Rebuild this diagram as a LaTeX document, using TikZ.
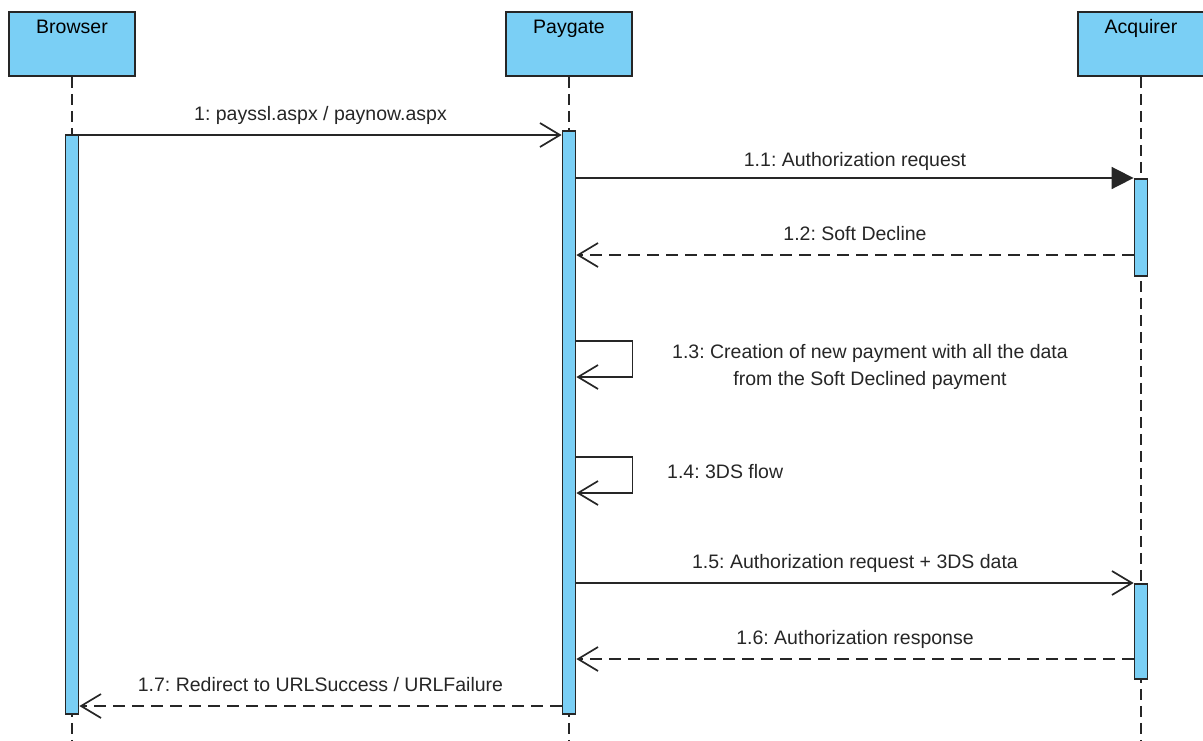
\documentclass[tikz,border=0pt]{standalone}
\usepackage{fontspec}
\setmainfont{Liberation Sans}
\usetikzlibrary{arrows.meta}
\frenchspacing

\definecolor{lifeblue}{HTML}{7ACFF5}
\definecolor{inkgray}{HTML}{262626}

\tikzset{
  actor/.style={draw=inkgray, fill=lifeblue, line width=1.8pt, minimum width=126pt,
                inner sep=4pt, text height=18pt, text depth=38pt},
  bar/.style={draw=inkgray, fill=lifeblue, line width=1.8pt, minimum width=13pt, inner sep=0pt},
  lifeline/.style={draw=inkgray, line width=1.8pt, dash pattern=on 11pt off 6pt},
  call/.style={draw=inkgray, line width=1.7pt, -{Straight Barb[length=20pt,width=24pt]}},
  sync/.style={draw=inkgray, line width=1.7pt, -{Triangle[length=22pt,width=22pt]}},
  reply/.style={call, dash pattern=on 12pt off 7pt},
  msglabel/.style={midway, anchor=south, yshift=10pt, inner sep=0pt, text height=14pt,
                   text depth=4pt, text=inkgray}
}

\begin{document}
\begin{tikzpicture}[x=1pt, y=-1pt, font=\fontsize{19.5pt}{27pt}\selectfont]
    \useasboundingbox (0,0) rectangle (1203,740) ;

    \node[actor, anchor=north] (browser) at (72,11) {Browser} ;
    \node[actor, anchor=north] (paygate) at (569,11) {Paygate} ;
    \node[actor, anchor=north] (acquirer) at (1141,11) {Acquirer} ;

    \coordinate (brend) at (72,740) ;
    \coordinate (pgend) at (569,740) ;
    \coordinate (acend) at (1141,740) ;
    \draw[lifeline] (browser.south) -- (brend) ;
    \draw[lifeline] (paygate.south) -- (pgend) ;
    \draw[lifeline] (acquirer.south) -- (acend) ;

    \node[bar, anchor=north, minimum height=579pt] (brbar) at (72,134) {} ;
    \node[bar, anchor=north, minimum height=583pt] (pgbar) at (569,130) {} ;
    \node[bar, anchor=north, minimum height=97pt] (acbar1) at (1141,178) {} ;
    \node[bar, anchor=north, minimum height=95pt] (acbar2) at (1141,583) {} ;

    \draw[call] (brbar.east |- 0,135) -- (pgbar.west |- 0,135)
        node[msglabel] {1: payssl.aspx / paynow.aspx} ;
    \draw[sync] (pgbar.east |- acbar1.north) -- (acbar1.north west)
        node[msglabel, yshift=-3pt] {1.1: Authorization request} ;
    \draw[reply] (acbar1.west |- 0,255) -- (pgbar.east |- 0,255)
        node[msglabel] {1.2: Soft Decline} ;

    \draw[call] (pgbar.east |- 0,341) -- ++(56,0) -- ++(0,36) -- (pgbar.east |- 0,377) ;
    \node[align=center, text=inkgray] (selfnew) at (870,367)
        {1.3: Creation of new payment with all the data\\from the Soft Declined payment} ;

    \draw[call] (pgbar.east |- 0,457) -- ++(56,0) -- ++(0,36) -- (pgbar.east |- 0,493) ;
    \node[anchor=west, inner sep=0pt, text=inkgray] (selfthreeds) at (667,472) {1.4: 3DS flow} ;

    \draw[call] (pgbar.east |- acbar2.north) -- (acbar2.north west)
        node[msglabel] {1.5: Authorization request + 3DS data} ;
    \draw[reply] (acbar2.west |- 0,659) -- (pgbar.east |- 0,659)
        node[msglabel] {1.6: Authorization response} ;
    \draw[reply] (pgbar.west |- 0,706) -- (brbar.east |- 0,706)
        node[msglabel] {1.7: Redirect to URLSuccess / URLFailure} ;
\end{tikzpicture}
\end{document}
